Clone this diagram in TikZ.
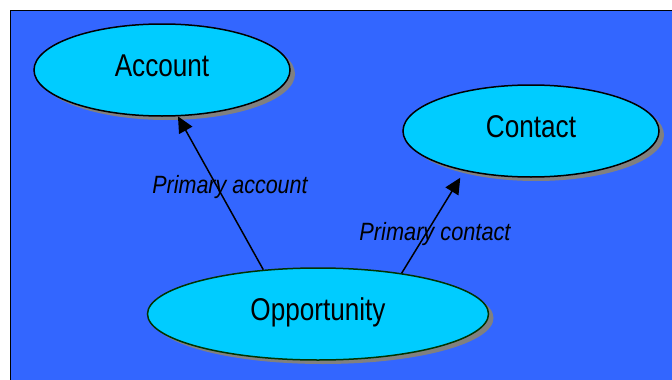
\documentclass[tikz,border=0pt]{standalone}
\usepackage{fontspec}
\setmainfont{Liberation Sans}
\usetikzlibrary{shapes.geometric,arrows.meta,shadows}
\definecolor{bgblue}{HTML}{3366FF}
\definecolor{nodecyan}{HTML}{00CCFF}
\definecolor{shadowgray}{HTML}{808080}
\definecolor{oppedge}{HTML}{003300}
\begin{document}
\begin{tikzpicture}[x=1pt,y=-1pt,
  entity/.style={ellipse, draw=black, line width=1.5pt, fill=nodecyan, inner sep=0pt,
    text height=22pt, text depth=10pt, font=\fontsize{31.5}{34}\selectfont,
    drop shadow={shadow xshift=5pt, shadow yshift=-4pt, fill=shadowgray, opacity=1}},
  rel/.style={line width=1.5pt, -{Triangle[length=16pt,width=15pt]}},
  rellabel/.style={font=\fontsize{25}{28}\selectfont\itshape, anchor=base, inner sep=0pt}]
\useasboundingbox (0,0) rectangle (672,380);
\clip (0,0) rectangle (672,380);
\fill[white] (0,0) rectangle (672,380);
\draw[fill=bgblue, line width=1pt] (10.5,10.5) rectangle (700,400);
\node[entity, minimum width=256pt, minimum height=92pt] (acc) at (162,70) {\scalebox{0.83}[1]{Account}};
\node[entity, minimum width=256pt, minimum height=92pt] (con) at (531,131) {\scalebox{0.83}[1]{Contact}};
\node[entity, draw=oppedge, minimum width=341pt, minimum height=92pt] (opp) at (318,314) {\scalebox{0.83}[1]{Opportunity}};
\draw[rel] (opp.141.7) -- (acc.-71.9);
\draw[rel, shorten >=7.9pt] (opp.26.3) -- (con.-149.5);
\node[rellabel] (lacc) at (230,193) {\scalebox{0.86}[1]{Primary account}};
\node[rellabel] (lcon) at (435,240) {\scalebox{0.87}[1]{Primary contact}};
\end{tikzpicture}
\end{document}
